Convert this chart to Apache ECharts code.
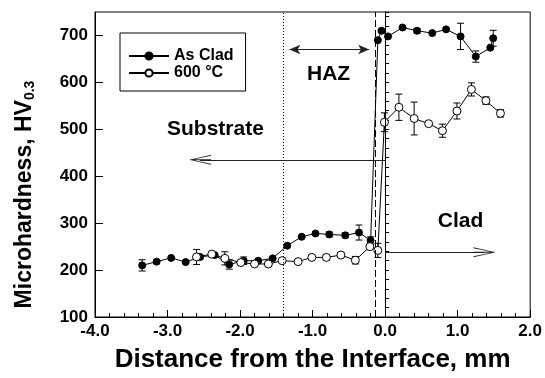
<!DOCTYPE html>
<html><head><meta charset="utf-8">
<script src="https://cdn.jsdelivr.net/npm/echarts@6/dist/echarts.min.js"></script>
<style>html,body{margin:0;padding:0;background:#fff}#c{width:545px;height:378px}</style>
</head><body><div id="c"></div>
<script>
// ---- data ----
const cladX = [-3.35,-3.15,-2.95,-2.75,-2.55,-2.35,-2.15,-1.95,-1.75,-1.55,-1.35,-1.15,-0.96,-0.77,-0.55,-0.36,-0.2,-0.1,-0.05,0.04,0.24,0.44,0.65,0.84,1.04,1.25,1.45,1.49];
const cladY = [210,218,226,217,228,232,212,220,220,225,252,271,278,276,274,280,263,690,710,698,717,710,705,713,698,655,674,694];
const cladErr = [12,0,0,0,0,0,10,8,0,0,0,0,0,5,5,16,8,0,0,0,0,5,0,0,28,12,0,17];
const heatX = [-2.6,-2.39,-2.21,-1.99,-1.8,-1.61,-1.42,-1.2,-1.01,-0.81,-0.61,-0.41,-0.21,-0.1,-0.01,0.19,0.4,0.6,0.79,0.99,1.19,1.39,1.59];
const heatY = [228,234,225,216,213,213,220,218,227,227,232,221,250,242,515,547,523,512,497,539,585,561,534];
const heatErr = [16,0,14,0,0,0,0,0,0,6,5,8,0,15,20,28,35,0,14,17,14,8,8];
const seriesNames = ['As Clad', '600 °C'];
const xTitle = 'Distance from the Interface, mm';
const yTitle = 'Microhardness, HV';
const ySub = '0.3';
const notes = ['HAZ', 'Substrate', 'Clad'];
const boundaryX = [-1.4, -0.13, 0.0];

const FF = '"Liberation Sans", Arial, sans-serif';
const pts = (xs, ys) => xs.map((x, i) => [x, ys[i]]);
const errs = (xs, ys, es) => xs.map((x, i) => [x, ys[i] - es[i], ys[i] + es[i]]).filter((d, i) => es[i] > 0);

function errRender(params, api) {
  const x = api.value(0);
  const p1 = api.coord([x, api.value(1)]);
  const p2 = api.coord([x, api.value(2)]);
  const w = 3.5;
  const st = { stroke: '#000', lineWidth: 1 };
  return { type: 'group', children: [
    { type: 'line', shape: { x1: p1[0], y1: p1[1], x2: p2[0], y2: p2[1] }, style: st },
    { type: 'line', shape: { x1: p1[0] - w, y1: p1[1], x2: p1[0] + w, y2: p1[1] }, style: st },
    { type: 'line', shape: { x1: p2[0] - w, y1: p2[1], x2: p2[0] + w, y2: p2[1] }, style: st }
  ]};
}

const vee = 'path://M5,0 L10,20 L9,20 L5,2.5 L1,20 L0,20 Z M4.5,1 L5.5,1 L5.5,20 L4.5,20 Z';

const chart = echarts.init(document.getElementById('c'), null, { renderer: 'canvas' });
chart.setOption({
  animation: false,
  backgroundColor: '#fff',
  grid: { left: 95, right: 12, top: 12, bottom: 59, show: true, borderColor: '#000', borderWidth: 1 },
  legend: {
    left: 120, top: 33, orient: 'vertical', itemWidth: 40, itemHeight: 9, itemGap: 1,
    padding: [15, 12, 10, 8], borderColor: '#000', borderWidth: 1,
    textStyle: { fontFamily: FF, fontSize: 16, fontWeight: 'bold', color: '#000' },
    data: seriesNames
  },
  xAxis: {
    type: 'value', min: -4, max: 2, interval: 1,
    name: xTitle, nameLocation: 'middle', nameGap: 30,
    nameTextStyle: { fontFamily: FF, fontSize: 26, fontWeight: 'bold', color: '#000' },
    axisLine: { show: true, lineStyle: { color: '#000' } },
    axisTick: { show: true, inside: true, length: 7, lineStyle: { color: '#000' } },
    minorTick: { show: true, splitNumber: 5, length: 4, lineStyle: { color: '#000' } },
    splitLine: { show: false },
    axisLabel: { fontFamily: FF, fontSize: 17, fontWeight: 'bold', color: '#000', margin: 6,
      formatter: v => v.toFixed(1) }
  },
  yAxis: [{
    type: 'value', min: 100, max: 750, interval: 20,
    axisLine: { show: true, lineStyle: { color: '#000' } },
    axisTick: { show: true, inside: true, length: 4, lineStyle: { color: '#000' } },
    splitLine: { show: false },
    axisLabel: { show: false }
  }, {
    type: 'value', min: 100, max: 750, interval: 100, position: 'left',
    name: '{a|' + yTitle + '}{b|' + ySub + '}', nameLocation: 'middle', nameGap: 58,
    nameTextStyle: { fontFamily: FF, fontSize: 23, fontWeight: 'bold', color: '#000', padding: [0, 60, 0, 0],
      rich: { a: { fontFamily: FF, fontSize: 23, fontWeight: 'bold', color: '#000' },
              b: { fontFamily: FF, fontSize: 14, fontWeight: 'bold', color: '#000', padding: [10, 0, 0, 0] } } },
    axisLine: { show: true, lineStyle: { color: '#000' } },
    axisTick: { show: true, inside: true, length: 8, lineStyle: { color: '#000' } },
    splitLine: { show: false },
    axisLabel: { fontFamily: FF, fontSize: 17, fontWeight: 'bold', color: '#000', margin: 7, showMaxLabel: false }
  }],
  series: [
    { type: 'custom', name: 'errClad', renderItem: errRender, data: errs(cladX, cladY, cladErr), z: 1, encode: { x: 0, y: [1, 2] }, silent: true },
    { type: 'custom', name: 'errHeat', renderItem: errRender, data: errs(heatX, heatY, heatErr), z: 1, encode: { x: 0, y: [1, 2] }, silent: true },
    {
      type: 'line', name: seriesNames[0], data: pts(cladX, cladY), z: 3,
      symbol: 'circle', symbolSize: 7, showAllSymbol: true,
      lineStyle: { color: '#000', width: 1 }, itemStyle: { color: '#000', borderColor: '#000', borderWidth: 1 },
      markLine: {
        silent: true, symbol: 'none', label: { show: false }, animation: false,
        data: [
          { xAxis: boundaryX[0], lineStyle: { color: '#000', width: 1, type: [1, 2] } },
          { xAxis: boundaryX[1], lineStyle: { color: '#000', width: 1, type: [7, 3] } },
          { xAxis: boundaryX[2], lineStyle: { color: '#000', width: 1, type: 'solid' } }
        ]
      }
    },
    {
      type: 'line', name: seriesNames[1], data: pts(heatX, heatY), z: 3,
      symbol: 'circle', symbolSize: 8, showAllSymbol: true,
      lineStyle: { color: '#000', width: 1 }, itemStyle: { color: '#fff', borderColor: '#000', borderWidth: 1 },
      markLine: {
        silent: true, label: { show: false }, animation: false,
        lineStyle: { color: '#222', width: 1, type: 'solid' },
        data: [
          [{ coord: [-1.32, 670], symbol: 'arrow', symbolSize: [7, 11] }, { coord: [-0.22, 670], symbol: 'arrow', symbolSize: [7, 11] }],
          [{ coord: [0.0, 435], symbol: 'none' }, { coord: [-2.55, 435], symbol: vee, symbolSize: [10, 22] }],
          [{ coord: [0.0, 238], symbol: 'none' }, { coord: [1.37, 238], symbol: vee, symbolSize: [10, 22] }]
        ]
      }
    }
  ]
});

const notePos = [[-0.78, 617], [-2.34, 500], [1.04, 305]];
chart.setOption({
  graphic: notes.map((t, i) => {
    const p = chart.convertToPixel({ gridIndex: 0 }, notePos[i]);
    return { type: 'text', x: p[0], y: p[1], z: 10,
      style: { text: t, fill: '#000', font: 'bold 21px ' + FF, textAlign: 'center', textVerticalAlign: 'middle' } };
  })
});
</script>
</body></html>
